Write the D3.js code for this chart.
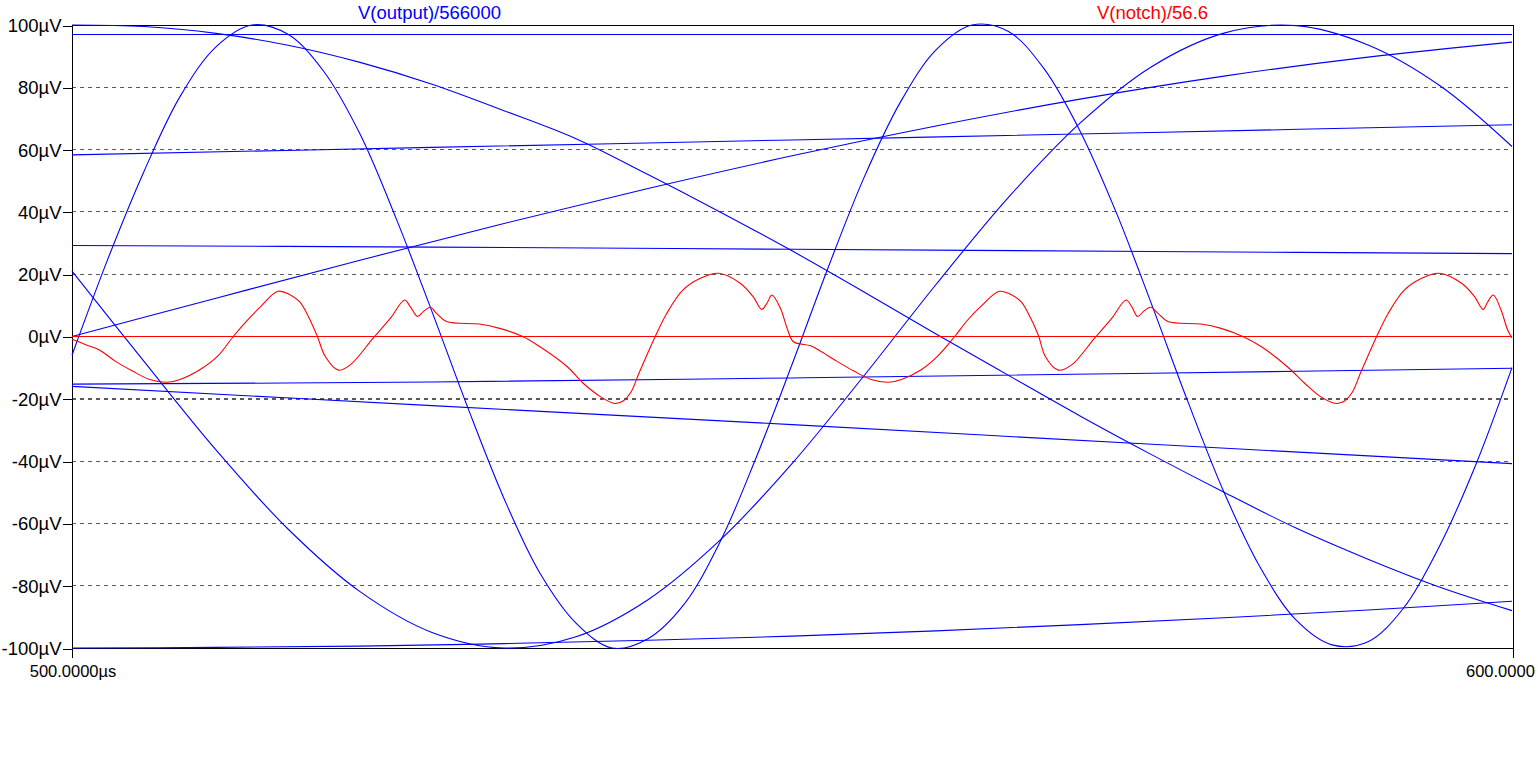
<!DOCTYPE html>
<html>
<head>
<meta charset="utf-8">
<script src="https://cdn.jsdelivr.net/npm/d3@7"></script>
<style>
  html, body { margin: 0; padding: 0; background: #ffffff; overflow: hidden; }
  svg { display: block; }
  text { font-family: "Liberation Sans", Arial, "DejaVu Sans", sans-serif; }
</style>
</head>
<body>
<svg id="chart" width="1538" height="768"></svg>
<script>
// ---------------- DATA (time in µs, value in µV) ----------------
const traceLabels = ["V(output)/566000", "V(notch)/56.6"];
const yTicks = [100, 80, 60, 40, 20, 0, -20, -40, -60, -80, -100];
const yTickLabels = ["100µV", "80µV", "60µV", "40µV", "20µV", "0µV", "-20µV", "-40µV", "-60µV", "-80µV", "-100µV"];
const xTicks = [500, 600];
const xTickLabels = ["500.0000µs", "600.0000"];   // right label is cut by the window edge in the reference

// V(output)/566000 – the visible aliased strands of the blue trace
const outputFastSine = [
  [500,-6],[502.5,25],[505,53],[507.5,77],[510,93],[512.5,100],[515,97],[517.5,85],[520,65],[522.5,38],
  [525,8],[527.5,-23],[530,-52],[532.5,-76],[535,-92],[537.5,-100],[540,-97],[542.5,-86],[545,-66],[547.5,-39],
  [550,-9],[552.5,22],[555,51],[557.5,75],[560,92],[562.5,100],[565,98],[567.5,86],[570,66],[572.5,40],
  [575,10],[577.5,-21],[580,-50],[582.5,-74],[585,-91],[587.5,-99],[590,-98],[592.5,-87],[595,-67],[597.5,-41],[600,-10]
];
const outputSlowFall = [
  [500,100],[505,99.5],[510,97.3],[515,93.5],[520,88],[525,81],[530,72.5],[535,63.5],[540,52],[545,40],
  [550,27.5],[555,14.3],[560,0.8],[565,-12.4],[570,-25.5],[575,-38],[580,-50],[585,-61.5],[590,-71.5],[595,-80.5],[600,-88]
];
const outputMidSine = [
  [500,21],[505,-8],[510,-36.4],[515,-61.8],[520,-81.9],[525,-95],[530,-100],[535,-96.4],[540,-84.5],[545,-65.4],
  [550,-40.8],[555,-12.6],[560,16.7],[565,44.5],[570,68.5],[575,86.7],[580,97.4],[585,99.8],[590,93.6],[595,80.5],[600,61]
];
const outputSlowRise = [
  [500,0],[510,12.3],[520,24.5],[530,36.3],[540,47.5],[550,58],[560,67.6],[570,76.2],[580,83.6],[590,89.7],[600,94.5]
];
const outputFlatTop = [[500,96.8],[600,96.8]];
const outputLine60 = [[500,58.3],[525,60.7],[550,63.1],[575,65.5],[600,68]];
const outputLine28 = [[500,29.2],[525,28.7],[550,28],[575,27.3],[600,26.6]];
const outputLineM13 = [[500,-15.3],[525,-14.6],[550,-13.3],[575,-11.8],[600,-10.2]];
const outputLineM28 = [[500,-16],[525,-22.2],[550,-28.3],[575,-34.6],[600,-40.8]];
const outputBottom = [
  [500,-100],[510,-99.8],[520,-99.4],[530,-98.6],[540,-97.5],[550,-96.2],[560,-94.5],[570,-92.5],[580,-90.3],[590,-87.8],[600,-85]
];
const outputStrands = [outputFastSine, outputSlowFall, outputMidSine, outputSlowRise, outputFlatTop,
                       outputLine60, outputLine28, outputLineM13, outputLineM28, outputBottom];

// V(notch)/56.6 – red trace
const notchWave = [
  [500.0,-0.9],[501.0,-2.7],[501.9,-4.3],[503.0,-7.9],[504.2,-11.1],[505.4,-13.8],[506.6,-14.7],[507.5,-13.8],
  [508.9,-10.6],[510.1,-6.4],[511.2,0],[512.2,5.3],[513.1,9.6],[514.3,14.5],[515.1,13.5],[515.8,11.2],[516.3,7.5],
  [517.0,0.5],[517.6,-6.5],[518.5,-10.8],[519.3,-9.2],[520.9,-0.6],[522.1,5.8],[523.1,11.7],[523.5,9.5],[524.0,6.4],
  [524.4,8.0],[524.9,9.4],[525.3,7.5],[526.0,4.8],[528.3,4.0],[529.7,2.6],[531.3,0],[532.5,-3.3],[534.4,-9.7],
  [535.5,-15],[536.7,-19.3],[537.7,-21.5],[538.3,-20.6],[538.8,-18.0],[539.4,-11.5],[540.5,0],[541.3,7.4],[542.4,14.8],[543.6,18.6],
  [544.9,20.3],[546.4,17.1],[547.3,12.8],[547.9,8.7],[548.3,11],[548.6,13.3],[549.2,9],[549.7,2.1],[550.1,-1.7],
  [551.3,-3],[551.9,-4.5],[553.1,-7.9],[554.3,-11.1],[555.5,-13.8],[556.7,-14.7],[557.6,-13.8],[559.0,-10.6],[560.1,-6.4],
  [561.3,0],[562.2,5.3],[563.1,9.6],[564.4,14.5],[565.2,13.5],[565.9,11.2],[566.4,7.5],[567.1,0.5],[567.6,-6.5],
  [568.5,-10.8],[569.4,-9.2],[571.0,-0.6],[572.2,5.8],[573.2,11.7],[573.6,9.5],[574.0,6.4],[574.4,8.0],[574.9,9.4],
  [575.4,7.5],[576.1,4.8],[578.4,4.0],[579.8,2.6],[581.3,0],[582.6,-3.3],[584.4,-9.7],[585.6,-15],[586.7,-19.3],
  [587.8,-21.5],[588.4,-20.6],[588.9,-18.0],[589.5,-11.5],[590.6,0],[591.4,7.4],[592.5,14.8],[593.7,18.6],[594.9,20.3],[596.5,17.1],
  [597.4,12.8],[598.0,8.7],[598.3,11],[598.7,13.3],[599.2,9],[599.7,2.1],[600.0,-0.5]
];
const notchZero = [[500,0],[600,0]];

// ---------------- DRAWING ----------------
const svg = d3.select("#chart");
const plotLeft = 72, plotRight = 1512, plotTop = 25, plotBottom = 648;
const x = d3.scaleLinear().domain([500, 600]).range([plotLeft, plotRight]);
const y = d3.scaleLinear().domain([-100, 100]).range([plotBottom, plotTop]);

const blue = "#0000ff", red = "#ff0000", gridCol = "#5f5760";

// grid lines
svg.append("g").selectAll("line")
  .data(yTicks.filter(v => v !== 100 && v !== -100))
  .join("line")
  .attr("x1", plotLeft).attr("x2", plotRight)
  .attr("y1", d => Math.floor(y(d)) + 0.5).attr("y2", d => Math.floor(y(d)) + 0.5)
  .attr("stroke", gridCol)
  .attr("stroke-width", d => d === -20 ? 2 : 1)
  .attr("stroke-dasharray", "4,4")
  .attr("shape-rendering", "crispEdges");

// frame
const frame = svg.append("g").attr("stroke", "#000").attr("stroke-width", 1).attr("shape-rendering", "crispEdges");
frame.append("line").attr("x1", plotLeft).attr("x2", plotRight + 1).attr("y1", plotTop + 0.5).attr("y2", plotTop + 0.5);
frame.append("line").attr("x1", plotLeft).attr("x2", plotRight + 1).attr("y1", plotBottom + 0.5).attr("y2", plotBottom + 0.5);
frame.append("line").attr("x1", plotLeft + 0.5).attr("x2", plotLeft + 0.5).attr("y1", plotTop).attr("y2", plotBottom + 10);
frame.append("line").attr("x1", plotRight + 1.5).attr("x2", plotRight + 1.5).attr("y1", plotTop).attr("y2", plotBottom + 10);

// y axis
const yAxis = d3.axisLeft(y).tickValues(yTicks)
  .tickFormat((d, i) => yTickLabels[i]).tickSize(10).tickSizeOuter(0).tickPadding(1);
const gy = svg.append("g").attr("transform", `translate(${plotLeft + 0.5},0.5)`).call(yAxis);
gy.select(".domain").remove();
gy.selectAll(".tick line").attr("stroke", "#000").attr("shape-rendering", "crispEdges");
gy.selectAll(".tick text").attr("fill", "#000").attr("font-size", "18.5px").attr("font-family", "'Liberation Sans', Arial, sans-serif");

// x axis labels (ticks drawn by frame lines)
const xAxis = d3.axisBottom(x).tickValues(xTicks)
  .tickFormat((d, i) => xTickLabels[i]).tickSize(9).tickSizeOuter(0).tickPadding(8);
const gx = svg.append("g").attr("transform", `translate(0.5,${plotBottom + 0.5})`).call(xAxis);
gx.select(".domain").remove();
gx.selectAll(".tick line").remove();
gx.selectAll(".tick text").attr("fill", "#000").attr("font-size", "16.5px").attr("font-family", "'Liberation Sans', Arial, sans-serif");
gx.selectAll(".tick text").filter(d => d === 600).attr("text-anchor", "start").attr("x", -47);

// traces
const line = d3.line().x(d => x(d[0])).y(d => y(d[1])).curve(d3.curveCatmullRom.alpha(0.5));
const flatLine = d3.line().x(d => x(d[0])).y(d => Math.floor(y(d[1])) + 0.5);

const gBlue = svg.append("g").attr("fill", "none").attr("stroke", blue).attr("stroke-width", 1.1);
outputStrands.forEach(s => {
  if (s.length === 2) {
    gBlue.append("path").attr("d", flatLine(s)).attr("stroke-width", 1).attr("shape-rendering", "crispEdges");
  } else {
    gBlue.append("path").attr("d", line(s));
  }
});

const gRed = svg.append("g").attr("fill", "none").attr("stroke", red).attr("stroke-width", 1.1);
gRed.append("path").attr("d", flatLine(notchZero)).attr("stroke-width", 1).attr("shape-rendering", "crispEdges");
gRed.append("path").attr("d", line(notchWave));

// trace labels
svg.append("text").attr("x", 358).attr("y", 19).attr("fill", blue).attr("font-size", "18.5px").text(traceLabels[0]);
svg.append("text").attr("x", 1097).attr("y", 19).attr("fill", red).attr("font-size", "18.5px").text(traceLabels[1]);
</script>
</body>
</html>
